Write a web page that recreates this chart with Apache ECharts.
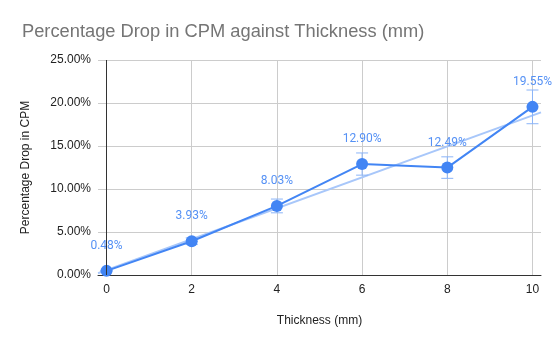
<!DOCTYPE html>
<html>
<head>
<meta charset="utf-8">
<script src="https://cdn.jsdelivr.net/npm/echarts@6/dist/echarts.min.js"></script>
<style>
  html, body { margin: 0; padding: 0; background: #fff; }
  #chart { width: 558px; height: 345px; }
</style>
</head>
<body>
<div id="chart"></div>
<script>
// Thickness of material (mm) and the measured percentage drop in counts per minute
const thickness = [0, 2, 4, 6, 8, 10];
const dropPercent = [0.48, 3.93, 8.03, 12.90, 12.49, 19.55];
// Error bar half-widths (percentage points)
const errorPercent = [0.05, 0.39, 0.80, 1.29, 1.25, 1.96];
const xTicks = [0, 2, 4, 6, 8, 10];

// Least-squares linear trendline through the measured points
function linearFit(xs, ys) {
  const n = xs.length;
  const mx = xs.reduce((a, b) => a + b, 0) / n;
  const my = ys.reduce((a, b) => a + b, 0) / n;
  let sxy = 0, sxx = 0;
  for (let i = 0; i < n; i++) {
    sxy += (xs[i] - mx) * (ys[i] - my);
    sxx += (xs[i] - mx) * (xs[i] - mx);
  }
  const slope = sxy / sxx;
  return { slope, intercept: my - slope * mx };
}
const fit = linearFit(thickness, dropPercent);
const xMin = -0.2, xMax = 10.2;
const trend = [xMin, xMax].map(x => [x, fit.intercept + fit.slope * x]);

const points = thickness.map((x, i) => [x, dropPercent[i]]);
const errors = thickness.map((x, i) => [x, dropPercent[i] - errorPercent[i], dropPercent[i] + errorPercent[i]]);

const blue = '#4285f4';
const font = '"Liberation Sans", Arial, sans-serif';
const labelFont = 'Roboto, "Liberation Sans", Arial, sans-serif';

const chart = echarts.init(document.getElementById('chart'));
chart.setOption({
  animation: false,
  title: {
    text: 'Percentage Drop in CPM against Thickness (mm)',
    left: 17, top: 18,
    textStyle: { color: '#757575', fontSize: 18.3, fontWeight: 'normal', fontFamily: font }
  },
  grid: { left: 98, right: 17, top: 60, bottom: 70 },
  xAxis: {
    type: 'value', min: xMin, max: xMax,
    name: 'Thickness (mm)', nameLocation: 'middle', nameGap: 40,
    nameTextStyle: { color: '#222', fontSize: 12, fontFamily: font },
    axisLine: { show: true, lineStyle: { color: '#333', width: 1 } },
    axisTick: { show: false, customValues: xTicks },
    axisLabel: { customValues: xTicks, color: '#222', fontSize: 12, fontFamily: font, margin: 9 },
    splitLine: { show: true, lineStyle: { color: '#cccccc', width: 1 } }
  },
  yAxis: {
    type: 'value', min: 0, max: 25, interval: 5,
    name: 'Percentage Drop in CPM', nameLocation: 'middle', nameGap: 66,
    nameTextStyle: { color: '#222', fontSize: 12, fontFamily: font },
    axisLine: { show: false },
    axisTick: { show: false },
    axisLabel: { color: '#222', fontSize: 12, fontFamily: font, margin: 7,
      formatter: v => v.toFixed(2) + '%' },
    splitLine: { show: true, lineStyle: { color: '#cccccc', width: 1 } }
  },
  series: [
    {
      name: 'Trendline', type: 'line', data: trend, symbol: 'none', silent: true,
      lineStyle: { color: '#a8c7fa', width: 2 }, z: 2,
      markLine: {
        silent: true, symbol: 'none', label: { show: false },
        lineStyle: { color: '#333', width: 1, type: 'solid' },
        data: [{ xAxis: 0 }]
      }
    },
    {
      name: 'Error', type: 'custom', data: errors, z: 3, silent: true,
      renderItem: (params, api) => {
        const x = api.value(0);
        const lo = api.coord([x, api.value(1)]);
        const hi = api.coord([x, api.value(2)]);
        const cap = 6;
        const style = { stroke: '#8ab4f8', lineWidth: 1 };
        return {
          type: 'group',
          children: [
            { type: 'line', shape: { x1: lo[0], y1: lo[1], x2: hi[0], y2: hi[1] }, style },
            { type: 'line', shape: { x1: lo[0] - cap, y1: lo[1], x2: lo[0] + cap, y2: lo[1] }, style },
            { type: 'line', shape: { x1: hi[0] - cap, y1: hi[1], x2: hi[0] + cap, y2: hi[1] }, style }
          ]
        };
      }
    },
    {
      name: 'Percentage Drop', type: 'line', data: points, z: 4,
      symbol: 'circle', symbolSize: 12,
      lineStyle: { color: blue, width: 2 },
      itemStyle: { color: blue },
      label: {
        show: true, position: 'top', distance: 13,
        color: '#5591f5', fontSize: 12, fontFamily: labelFont,
        formatter: p => p.value[1].toFixed(2) + '%'
      }
    }
  ]
});
</script>
</body>
</html>
